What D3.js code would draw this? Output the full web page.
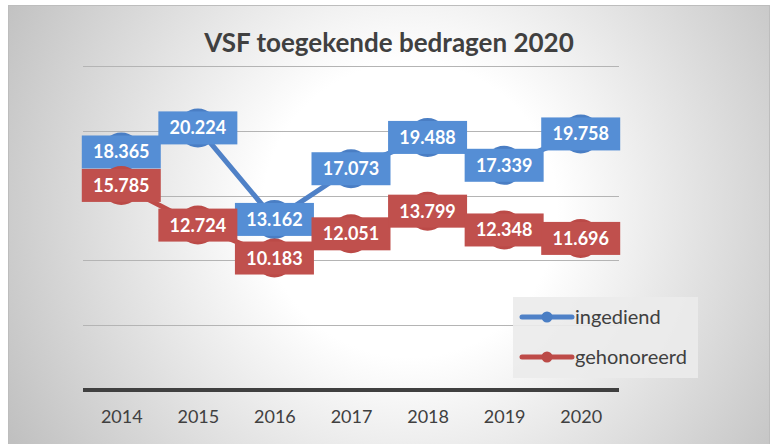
<!DOCTYPE html>
<html>
<head>
<meta charset="utf-8">
<script src="https://cdn.jsdelivr.net/npm/d3@7"></script>
<style>
  body { margin: 0; background: #fff; }
  svg { display: block; font-family: Lato, "Open Sans", sans-serif; }
</style>
</head>
<body>
<div id="chart"></div>
<script>
const years = ['2014', '2015', '2016', '2017', '2018', '2019', '2020'];
const ingediend = [18365, 20224, 13162, 17073, 19488, 17339, 19758];
const gehonoreerd = [15785, 12724, 10183, 12051, 13799, 12348, 11696];
const yTicks = [0, 5000, 10000, 15000, 20000, 25000];

const series = [
  { name: 'ingediend', values: ingediend, line: '#4f81c7', box: '#558ed5', dot: '#4a7ec4' },
  { name: 'gehonoreerd', values: gehonoreerd, line: '#be4b48', box: '#c0504d', dot: '#bb4a47' },
];

const width = 772;
const height = 444;
const plot = { left: 83, right: 619, top: 66, bottom: 390 };

const nl = d3.formatLocale({ decimal: ',', thousands: '.', grouping: [3], currency: ['€', ''] });
const fmt = nl.format(',d');

const svg = d3.select('#chart')
  .append('svg')
  .attr('width', width)
  .attr('height', height);

const defs = svg.append('defs');
const grad = defs.append('radialGradient')
  .attr('id', 'bg')
  .attr('gradientUnits', 'userSpaceOnUse')
  .attr('cx', 410).attr('cy', 210).attr('r', 460);
grad.append('stop').attr('offset', '0%').attr('stop-color', '#ffffff');
grad.append('stop').attr('offset', '32%').attr('stop-color', '#ffffff');
grad.append('stop').attr('offset', '100%').attr('stop-color', '#c0c0c0');

// chart area background
svg.append('rect')
  .attr('x', 8.5).attr('y', 5.5)
  .attr('width', 761).attr('height', 445)
  .attr('fill', 'url(#bg)')
  .attr('stroke', '#bdbdbd');

const x = d3.scalePoint()
  .domain(years)
  .range([plot.left, plot.right])
  .padding(0.5);

const y = d3.scaleLinear()
  .domain([0, 25000])
  .range([plot.bottom, plot.top]);

// grid
svg.append('g')
  .selectAll('line')
  .data(yTicks.slice(1))
  .join('line')
  .attr('x1', plot.left).attr('x2', plot.right)
  .attr('y1', (d) => Math.round(y(d)) + 0.5)
  .attr('y2', (d) => Math.round(y(d)) + 0.5)
  .attr('stroke', '#b4b4b4')
  .attr('stroke-width', 1);

// x axis
const xAxis = d3.axisBottom(x).tickSize(0).tickPadding(20);
svg.append('g')
  .attr('transform', `translate(0, ${plot.bottom})`)
  .call(xAxis)
  .call((g) => g.select('.domain')
    .attr('d', `M${plot.left},0H${plot.right}`)
    .attr('stroke', '#404040')
    .attr('stroke-width', 4))
  .call((g) => g.selectAll('text')
    .attr('fill', '#404040')
    .attr('font-size', 18)
    .attr('font-family', 'Lato, sans-serif'));

// title
svg.append('text')
  .attr('x', 389).attr('y', 52)
  .attr('text-anchor', 'middle')
  .attr('font-size', 26)
  .attr('font-weight', 'bold')
  .attr('fill', '#404040')
  .text('VSF toegekende bedragen 2020');

const line = d3.line()
  .x((d, i) => x(years[i]))
  .y((d) => y(d));

const boxW = 79;
const boxH = 33;

for (const s of series) {
  const g = svg.append('g').attr('class', s.name);

  g.append('path')
    .datum(s.values)
    .attr('d', line)
    .attr('fill', 'none')
    .attr('stroke', s.line)
    .attr('stroke-width', 5)
    .attr('stroke-linejoin', 'round');

  g.selectAll('circle')
    .data(s.values)
    .join('circle')
    .attr('cx', (d, i) => x(years[i]))
    .attr('cy', (d) => y(d))
    .attr('r', 19.5)
    .attr('fill', s.dot);

  const labels = g.selectAll('g.label')
    .data(s.values)
    .join('g')
    .attr('class', 'label')
    .attr('transform', (d, i) => `translate(${x(years[i])}, ${y(d)})`);

  labels.append('rect')
    .attr('x', -boxW / 2).attr('y', -boxH / 2)
    .attr('width', boxW).attr('height', boxH)
    .attr('fill', s.box);

  labels.append('text')
    .attr('text-anchor', 'middle')
    .attr('dy', '0.36em')
    .attr('font-size', 18)
    .attr('font-weight', 'bold')
    .attr('fill', '#ffffff')
    .text((d) => fmt(d));
}

// legend
const legend = svg.append('g');
legend.append('rect')
  .attr('x', 513).attr('y', 297)
  .attr('width', 185).attr('height', 81)
  .attr('fill', '#ebebeb')
  .attr('fill-opacity', 0.9);

const items = legend.selectAll('g.item')
  .data(series)
  .join('g')
  .attr('class', 'item')
  .attr('transform', (d, i) => `translate(0, ${317 + i * 40})`);

items.append('line')
  .attr('x1', 522).attr('x2', 572)
  .attr('stroke', (d) => d.line)
  .attr('stroke-width', 5)
  .attr('stroke-linecap', 'round');

items.append('circle')
  .attr('cx', 547).attr('r', 5.5)
  .attr('fill', (d) => d.dot);

items.append('text')
  .attr('x', 575).attr('dy', '0.33em')
  .attr('font-size', 20)
  .attr('fill', '#404040')
  .text((d) => d.name);
</script>
</body>
</html>
